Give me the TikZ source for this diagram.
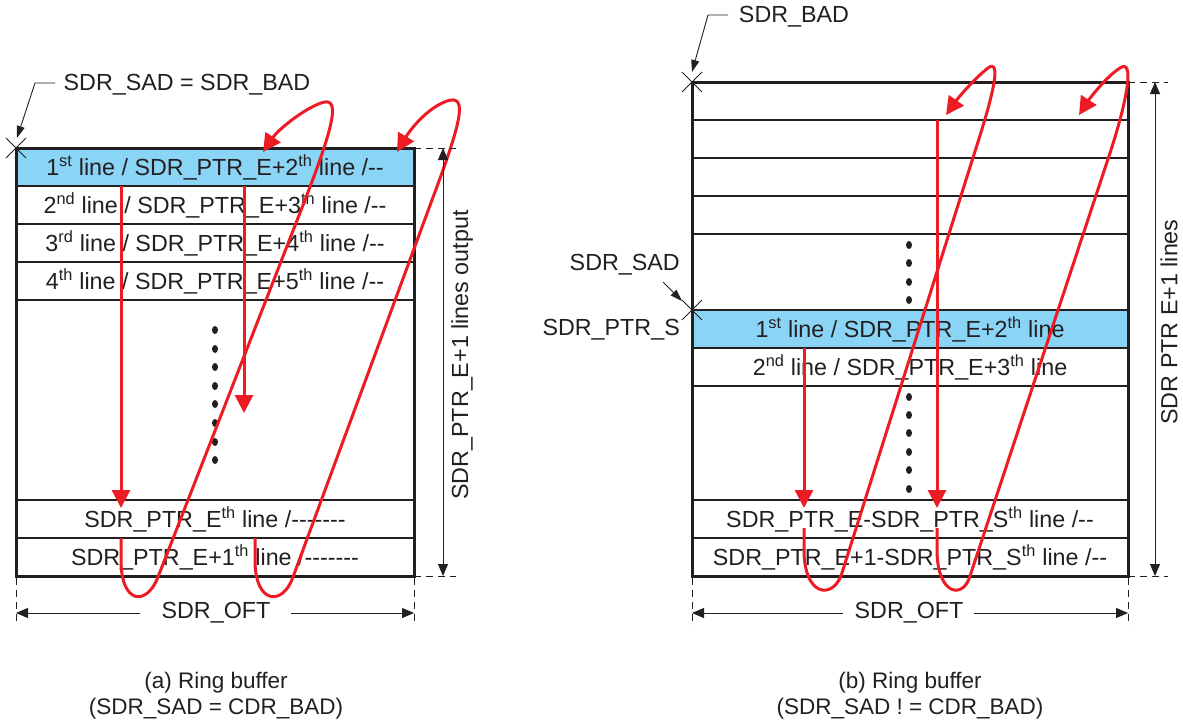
\documentclass[tikz,border=0pt]{standalone}
\usepackage{fontspec}
\setmainfont{Liberation Sans}
\usetikzlibrary{arrows.meta}
\definecolor{rowblue}{RGB}{138,213,245}
\definecolor{loopred}{RGB}{237,28,36}
\definecolor{ink}{RGB}{35,31,32}
\begin{document}
\begin{tikzpicture}[x=1pt,y=-1pt,
  font=\fontsize{23.3}{27}\selectfont,
  row/.style={draw=ink,line width=2pt,minimum height=38pt,inner sep=0pt,outer sep=0pt,anchor=north west,text=ink},
  rowa/.style={row,minimum width=398pt},
  rowb/.style={row,minimum width=436pt},
  frame/.style={draw=ink,line width=3pt},
  redline/.style={draw=loopred,line width=3pt,-{Triangle[length=18pt,width=18pt]}},
  dimarrow/.style={draw=ink,line width=0.9pt,{Triangle[length=12pt,width=10pt]}-{Triangle[length=12pt,width=10pt]}},
  dimhalf/.style={draw=ink,line width=0.9pt,-{Triangle[length=12pt,width=10pt]}},
  extline/.style={draw=ink,line width=0.9pt,dash pattern=on 7pt off 5pt},
  leader/.style={draw=ink,line width=0.9pt,-{Triangle[length=12pt,width=8pt]}},
  crossmark/.style={draw=ink,line width=0.9pt},
  lbl/.style={text=ink,inner sep=0pt},
  captext/.style={lbl,font=\fontsize{22.5}{26}\selectfont}
]
\useasboundingbox (0,0) rectangle (1183,725);

% ================= (a) =================
\node[rowa,fill=rowblue] (a1) at (16,148) {1\textsuperscript{st} line / SDR\_PTR\_E+2\textsuperscript{th} line /-{}-};
\node[rowa] (a2) at (16,186) {2\textsuperscript{nd} line / SDR\_PTR\_E+3\textsuperscript{th} line /-{}-};
\node[rowa] (a3) at (16,224) {3\textsuperscript{rd} line / SDR\_PTR\_E+4\textsuperscript{th} line /-{}-};
\node[rowa] (a4) at (16,262) {4\textsuperscript{th} line / SDR\_PTR\_E+5\textsuperscript{th} line /-{}-};
\node[rowa] (a5) at (16,500) {SDR\_PTR\_E\textsuperscript{th} line /-{}-{}-{}-{}-{}-{}-};
\node[rowa] (a6) at (16,538) {SDR\_PTR\_E+1\textsuperscript{th} line /-{}-{}-{}-{}-{}-{}-};
\draw[frame] (16,148) rectangle (414,576);
\foreach \y in {330,349,367,386,404,423,442,460}
  \fill[ink] (215,\y) ellipse [x radius=3pt, y radius=4pt];

% red paths (a)
\coordinate (ra1s) at (121,186); \coordinate (ra1e) at (121,508);
\coordinate (ra2s) at (244,186); \coordinate (ra2e) at (244,413);
\draw[redline] (ra1s) -- (ra1e);
\draw[redline] (ra2s) -- (ra2e);
\coordinate (la1) at (121,538); \coordinate (la1t) at (263,152);
\coordinate (la2) at (255,538); \coordinate (la2t) at (397,152);
\draw[redline] (la1) -- (121,560) .. controls (121,605) and (147,606) .. (158,577)
  -- (305,200) .. controls (336,120) and (340,96) .. (321,103)
  .. controls (302,110) and (278,130) .. (la1t);
\draw[redline] (la2) -- (255,560) .. controls (255,605) and (283,606) .. (293,577)
  -- (432,200) .. controls (462,120) and (468,94) .. (447,101)
  .. controls (427,108) and (410,130) .. (la2t);

% labels (a)
\node[lbl] (labA) at (187,85) {SDR\_SAD = SDR\_BAD};
\coordinate (ldA1) at (55,83); \coordinate (ldA2) at (35,83); \coordinate (tipA) at (17,138);
\draw[leader] (ldA1) -- (ldA2) -- (tipA);
\coordinate (cornA) at (16,148);
\draw[crossmark] ([shift={(-10,-10)}]cornA) -- ([shift={(10,10)}]cornA);
\draw[crossmark] ([shift={(-10,10)}]cornA) -- ([shift={(10,-10)}]cornA);

% dimensions (a)
\coordinate (dAt) at (443,148); \coordinate (dAb) at (443,576);
\draw[extline] (414,148) -- (456,148);
\draw[extline] (414,576) -- (456,576);
\draw[dimarrow] (dAt) -- (dAb);
\node[lbl,rotate=90] (vlabA) at (462,355) {SDR\_PTR\_E+1 lines output};
\draw[extline] (16,578) -- (16,624);
\draw[extline] (414,578) -- (414,624);
\node[lbl] (oftA) at (216,613) {SDR\_OFT};
\coordinate (oA1) at (16,613); \coordinate (oA2) at (414,613);
\draw[dimhalf] (140,613) -- (oA1);
\draw[dimhalf] (291,613) -- (oA2);

\node[captext] (capA1) at (216,683) {(a) Ring buffer};
\node[captext] (capA2) at (216,709) {(SDR\_SAD = CDR\_BAD)};

% ================= (b) =================
\node[rowb] (b1) at (692,82) {};
\node[rowb] (b2) at (692,120) {};
\node[rowb] (b3) at (692,158) {};
\node[rowb] (b4) at (692,196) {};
\node[rowb,fill=rowblue] (b5) at (692,310) {1\textsuperscript{st} line / SDR\_PTR\_E+2\textsuperscript{th} line};
\node[rowb] (b6) at (692,348) {2\textsuperscript{nd} line / SDR\_PTR\_E+3\textsuperscript{th} line};
\node[rowb] (b7) at (692,500) {SDR\_PTR\_E-SDR\_PTR\_S\textsuperscript{th} line /-{}-};
\node[rowb] (b8) at (692,538) {SDR\_PTR\_E+1-SDR\_PTR\_S\textsuperscript{th} line /-{}-};
\draw[frame] (692,82) rectangle (1128,576);
\foreach \y in {245,263,282,300,397,415,433,452,470,489}
  \fill[ink] (909,\y) ellipse [x radius=3pt, y radius=4pt];

% red paths (b)
\coordinate (rb1s) at (804,348); \coordinate (rb1e) at (804,508);
\coordinate (rb2s) at (937,120); \coordinate (rb2e) at (937,508);
\draw[redline] (rb1s) -- (rb1e);
\draw[redline] (rb2s) -- (rb2e);
\coordinate (lb1) at (804,528); \coordinate (lb1t) at (946,115);
\coordinate (lb2) at (937,528); \coordinate (lb2t) at (1079,115);
\draw[redline] (lb1) -- (804,550) .. controls (804,595) and (831,600) .. (841,576)
  -- (977,145) .. controls (993,95) and (1002,58) .. (988,68)
  .. controls (975,78) and (958,98) .. (lb1t);
\draw[redline] (lb2) -- (937,550) .. controls (937,595) and (963,600) .. (970,576)
  -- (1111,150) .. controls (1127,100) and (1135,58) .. (1120,68)
  .. controls (1106,77) and (1090,98) .. (lb2t);

% labels (b)
\node[lbl] (labB) at (794,17) {SDR\_BAD};
\coordinate (ldB1) at (728,15); \coordinate (ldB2) at (708,15); \coordinate (tipB) at (692,72);
\draw[leader] (ldB1) -- (ldB2) -- (tipB);
\coordinate (cornB) at (692,82);
\draw[crossmark] ([shift={(-10,-10)}]cornB) -- ([shift={(10,10)}]cornB);
\draw[crossmark] ([shift={(-10,10)}]cornB) -- ([shift={(10,-10)}]cornB);

\node[lbl,anchor=east] (labS) at (680,265) {SDR\_SAD};
\node[lbl,anchor=east] (labP) at (680,330) {SDR\_PTR\_S};
\coordinate (ldS) at (663,282); \coordinate (tipS) at (682,301);
\draw[leader] (ldS) -- (tipS);
\coordinate (cornS) at (692,310);
\draw[crossmark] ([shift={(-10,-10)}]cornS) -- ([shift={(10,10)}]cornS);
\draw[crossmark] ([shift={(-10,10)}]cornS) -- ([shift={(10,-10)}]cornS);

% dimensions (b)
\coordinate (dBt) at (1155,82); \coordinate (dBb) at (1155,576);
\draw[extline] (1128,82) -- (1168,82);
\draw[extline] (1128,576) -- (1168,576);
\draw[dimarrow] (dBt) -- (dBb);
\node[lbl,rotate=90] (vlabB) at (1169,322) {SDR PTR E+1 lines};
\draw[extline] (692,578) -- (692,626);
\draw[extline] (1128,578) -- (1128,626);
\node[lbl] (oftB) at (909,613) {SDR\_OFT};
\coordinate (oB1) at (692,613); \coordinate (oB2) at (1128,613);
\draw[dimhalf] (843,613) -- (oB1);
\draw[dimhalf] (974,613) -- (oB2);

\node[captext] (capB1) at (910,683) {(b) Ring buffer};
\node[captext] (capB2) at (910,709) {(SDR\_SAD ! = CDR\_BAD)};
\end{tikzpicture}
\end{document}
